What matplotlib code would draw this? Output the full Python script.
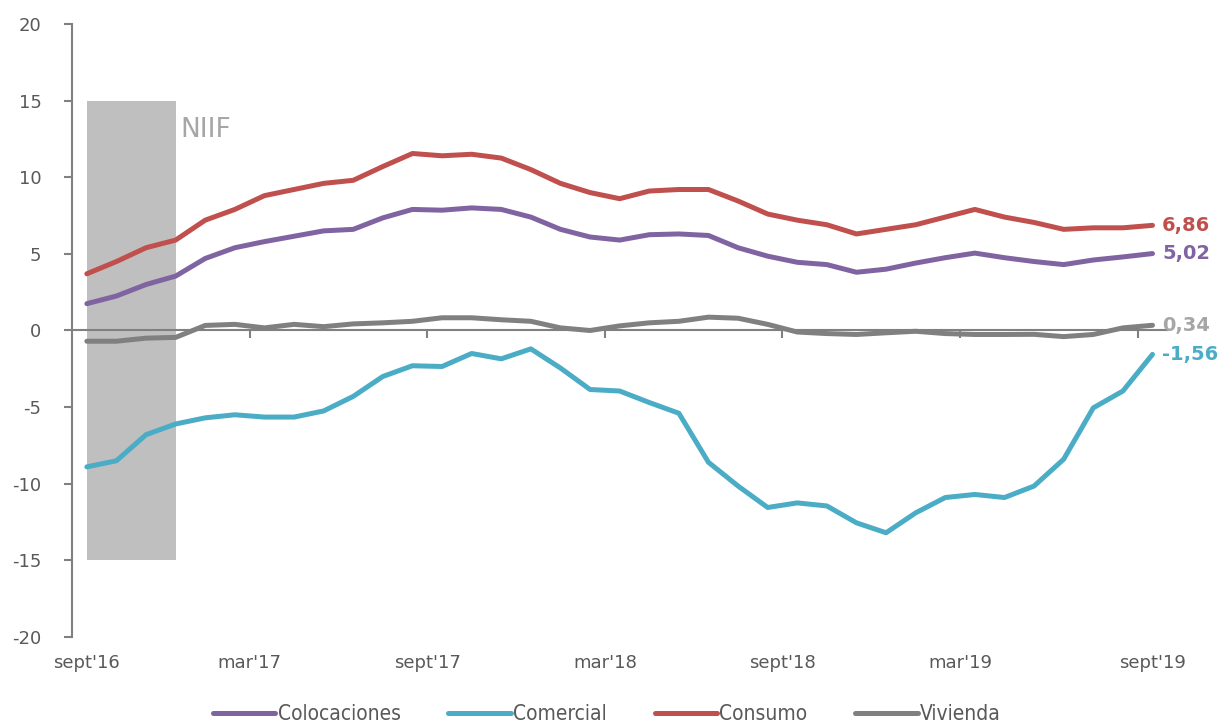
import numpy as np
import matplotlib
matplotlib.use("Agg")
import matplotlib.pyplot as plt
from matplotlib.patches import Rectangle

# monthly data sept'16 .. sept'19
colocaciones = [1.75, 2.25, 3.0, 3.55, 4.7, 5.4, 5.8, 6.15, 6.5, 6.6,
                7.35, 7.9, 7.85, 8.0, 7.9, 7.4, 6.6, 6.1, 5.9, 6.25,
                6.3, 6.2, 5.4, 4.85, 4.45, 4.3, 3.8, 4.0, 4.4, 4.75,
                5.05, 4.75, 4.5, 4.3, 4.6, 4.8, 5.02]
comercial = [-8.9, -8.5, -6.8, -6.1, -5.7, -5.5, -5.65, -5.65, -5.25, -4.3,
             -3.0, -2.3, -2.35, -1.5, -1.85, -1.2, -2.45, -3.85, -3.95, -4.7,
             -5.4, -8.6, -10.15, -11.55, -11.25, -11.45, -12.55, -13.2, -11.9, -10.9,
             -10.7, -10.9, -10.15, -8.4, -5.05, -3.95, -1.56]
consumo = [3.7, 4.5, 5.4, 5.9, 7.2, 7.9, 8.8, 9.2, 9.6, 9.8,
           10.7, 11.55, 11.4, 11.5, 11.25, 10.5, 9.6, 9.0, 8.6, 9.1,
           9.2, 9.2, 8.45, 7.6, 7.2, 6.9, 6.3, 6.6, 6.9, 7.4,
           7.9, 7.4, 7.05, 6.6, 6.7, 6.7, 6.86]
vivienda = [-0.7, -0.7, -0.5, -0.45, 0.33, 0.4, 0.17, 0.4, 0.25, 0.43,
            0.5, 0.6, 0.83, 0.83, 0.7, 0.6, 0.17, 0.0, 0.3, 0.5,
            0.6, 0.87, 0.8, 0.4, -0.1, -0.2, -0.26, -0.15, -0.05, -0.2,
            -0.26, -0.26, -0.25, -0.4, -0.26, 0.17, 0.34]

series_names = ["Colocaciones", "Comercial", "Consumo", "Vivienda"]
series_colors = ["#8064a2", "#4bacc6", "#c0504d", "#808080"]
end_labels = ["5,02", "-1,56", "6,86", "0,34"]
end_label_colors = ["#8064a2", "#4bacc6", "#c0504d", "#a6a6a6"]

x_labels = ["sept'16", "mar'17", "sept'17", "mar'18", "sept'18", "mar'19", "sept'19"]
x_label_pos = [0, 5.5, 11.5, 17.5, 23.5, 29.5, 36]
niif_start, niif_end = 0, 3

plt.rcParams['font.family'] = ['DejaVu Sans']
plt.rcParams['axes.unicode_minus'] = False

fig = plt.figure(figsize=(12.21, 7.25), dpi=100)
ax = fig.add_axes([0.059, 0.1214, 0.897, 0.8455])

x = np.arange(len(consumo))

# NIIF shaded band
ax.add_patch(Rectangle((niif_start, -15), niif_end - niif_start, 30,
                       facecolor="#bfbfbf", edgecolor="none", zorder=1))
ax.text(niif_end + 0.15, 13.1, "NIIF", color="#a6a6a6", fontsize=19,
        va="center", ha="left")

all_series = [colocaciones, comercial, consumo, vivienda]
for vals, name, col in zip(all_series, series_names, series_colors):
    ax.plot(x, vals, color=col, lw=3.6, label=name, zorder=3,
            solid_joinstyle="round", solid_capstyle="round")

for vals, lab, col in zip(all_series, end_labels, end_label_colors):
    ax.annotate(lab, (x[-1], vals[-1]), xytext=(7, 0), textcoords="offset points",
                color=col, fontsize=14, fontweight="bold", va="center", ha="left")

ax.set_xlim(-0.5, 36.5)
ax.set_ylim(-20, 20)
ax.set_yticks(range(-20, 21, 5))

for s in ["top", "right"]:
    ax.spines[s].set_visible(False)
ax.spines["left"].set_color("#808080")
ax.spines["left"].set_linewidth(1.5)
ax.spines["bottom"].set_position(("data", 0))
ax.spines["bottom"].set_color("#808080")
ax.spines["bottom"].set_linewidth(1.5)
ax.spines["bottom"].set_zorder(2)

ax.tick_params(axis="y", colors="#808080", labelcolor="#595959", labelsize=13,
               length=6, width=1.5, pad=16)
ax.set_xticks([])
ax.set_xticks([5.5, 11.5, 17.5, 23.5, 29.5, 35.5], minor=True)
ax.tick_params(axis="x", which="minor", colors="#808080", length=6, width=1.5,
               direction="out", labelbottom=False)

sec = ax.secondary_xaxis("bottom")
sec.set_xticks(x_label_pos, x_labels)
sec.tick_params(length=0, pad=12, labelsize=13, labelcolor="#595959")
sec.spines["bottom"].set_visible(False)

leg = fig.legend(loc="lower center", bbox_to_anchor=(0.497, -0.025), ncol=4,
                 frameon=False, handlelength=3.0, handletextpad=0.1,
                 columnspacing=2.3,
                 prop={"family": ["DejaVu Sans"], "stretch": "condensed", "size": 15})
for t in leg.get_texts():
    t.set_color("#595959")

fig.savefig("out.png", dpi=100)
